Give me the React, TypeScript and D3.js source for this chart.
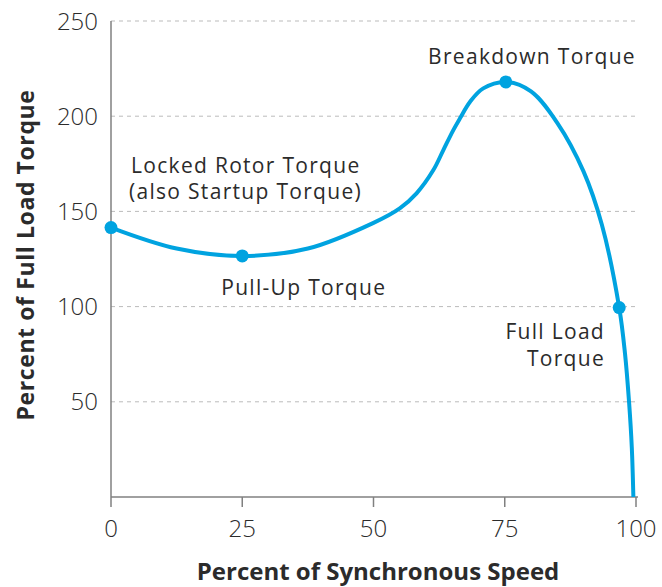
import React from 'react';
import { scaleLinear, line, curveCatmullRom } from 'd3';

const width = 662;
const height = 587;

// torque curve
const speed = [0, 12.5, 25, 37.5, 50, 55, 58.2, 61.4, 63.3, 65.2, 66.5, 68.4, 70.9, 75.2, 80, 85, 90, 93.5, 96.8, 97.9, 98.7, 99.2, 99.5];
const torque = [141.5, 130.5, 126.6, 130.5, 144, 151.6, 159.5, 171.7, 182.2, 192.7, 199, 207.6, 214.6, 218, 213, 196.5, 171, 143, 99.5, 75.5, 49, 26, 0];

const pointLabels = ['Locked Rotor Torque', 'Pull-Up Torque', 'Breakdown Torque', 'Full Load Torque'];
const pointSpeed = [0, 25, 75.2, 96.8];
const pointTorque = [141.5, 126.6, 218, 99.5];

const xTicks = [0, 25, 50, 75, 100];
const yTicks = [50, 100, 150, 200, 250];

const margin = { left: 111, right: 26, top: 21, bottom: 90 };

const App = () => {
  const x = scaleLinear().domain([0, 100]).range([margin.left, width - margin.right]);
  const y = scaleLinear().domain([0, 250]).range([height - margin.bottom, margin.top]);

  const data = speed.map((s, i) => ({ s, t: torque[i] }));
  const path = line<{ s: number; t: number }>()
    .x(d => x(d.s))
    .y(d => y(d.t))
    .curve(curveCatmullRom.alpha(0.5))(data);

  const font = "'Open Sans', 'Liberation Sans', sans-serif";
  const textColor = '#2b2b2b';
  const blue = '#00a3e0';
  const pts = pointSpeed.map((s, i) => ({ s, t: pointTorque[i], label: pointLabels[i] }));

  return (
    <svg width={width} height={height} style={{ position: 'absolute', left: 0, top: 0 }} fontFamily={font}>
      <rect width={width} height={height} fill="#fff" />
      {yTicks.map(t => (
        <g key={t}>
          <line x1={x(0)} x2={x(100)} y1={y(t)} y2={y(t)} stroke="#bbb" strokeWidth={1} strokeDasharray="4 4" />
          <text x={x(0) - 13} y={y(t)} dy="0.36em" textAnchor="end" fontSize={24} fontWeight={300} fill={textColor}>{t}</text>
        </g>
      ))}
      <line x1={x(0)} x2={x(0)} y1={y(250)} y2={y(0)} stroke="#808080" strokeWidth={1.5} />
      <line x1={x(0)} x2={x(100) + 2} y1={y(0)} y2={y(0)} stroke="#808080" strokeWidth={1.5} />
      {xTicks.map(t => (
        <g key={t}>
          <line x1={x(t)} x2={x(t)} y1={y(0)} y2={y(0) + 10} stroke="#808080" strokeWidth={1.5} />
          <text x={x(t)} y={y(0) + 40} textAnchor="middle" fontSize={24} fontWeight={300} fill={textColor}>{t}</text>
        </g>
      ))}
      <path d={path ?? ''} fill="none" stroke={blue} strokeWidth={4} />
      {pts.map(p => (
        <circle key={p.label} cx={x(p.s)} cy={y(p.t)} r={6.5} fill={blue} />
      ))}
      <g fontSize={21} fill={textColor} letterSpacing={1.3}>
        <text x={532} y={64} textAnchor="middle">Breakdown Torque</text>
        <text x={x(0) + 20} y={173}>Locked Rotor Torque</text>
        <text x={x(0) + 18} y={199}>(also Startup Torque)</text>
        <text x={x(pointSpeed[1]) - 21} y={295}>Pull-Up Torque</text>
        <text x={605} y={339} textAnchor="end">Full Load</text>
        <text x={605} y={366} textAnchor="end">Torque</text>
      </g>
      <text x={378} y={580} textAnchor="middle" fontSize={24} fontWeight={700} fill={textColor}>Percent of Synchronous Speed</text>
      <text transform={`translate(34, 255) rotate(-90)`} textAnchor="middle" fontSize={23} fontWeight={700} letterSpacing={0.6} fill={textColor}>Percent of Full Load Torque</text>
    </svg>
  );
};

export default App;
